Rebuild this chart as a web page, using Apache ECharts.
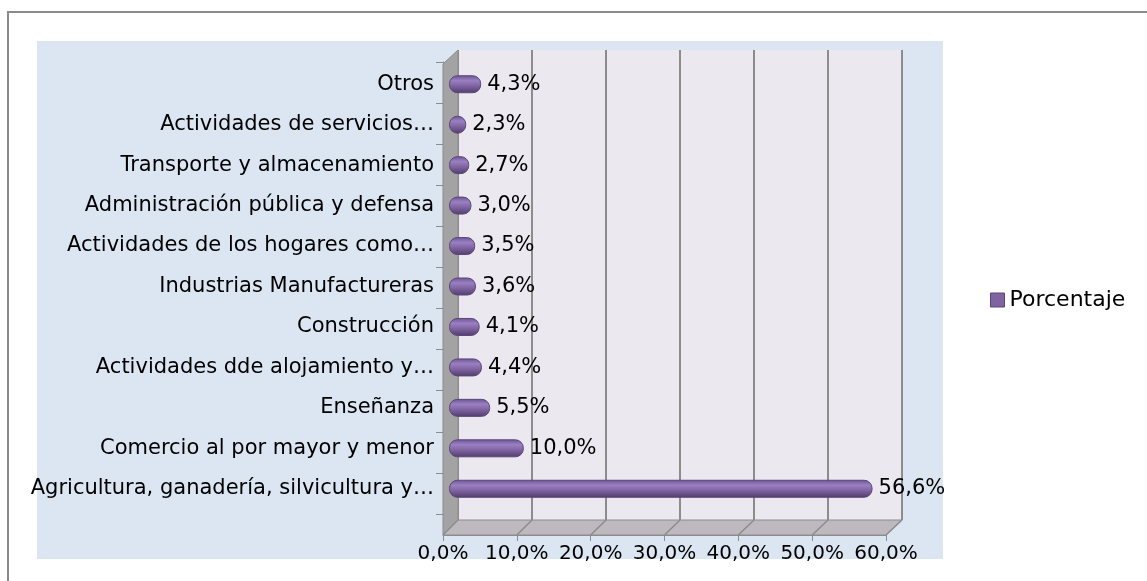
<!DOCTYPE html>
<html>
<head>
<meta charset="utf-8">
<script src="https://cdn.jsdelivr.net/npm/echarts@6/dist/echarts.min.js"></script>
<style>
  html, body { margin: 0; padding: 0; background: #fff; }
  #chart { width: 1147px; height: 581px; }
</style>
</head>
<body>
<div id="chart"></div>
<script>
  // categories listed bottom -> top (ECharts category order)
  var categories = [
    'Agricultura, ganadería, silvicultura y…',
    'Comercio al por mayor y menor',
    'Enseñanza',
    'Actividades dde alojamiento y…',
    'Construcción',
    'Industrias Manufactureras',
    'Actividades de los hogares como…',
    'Administración pública y defensa',
    'Transporte y almacenamiento',
    'Actividades de servicios…',
    'Otros'
  ];
  var porcentaje = [56.6, 10.0, 5.5, 4.4, 4.1, 3.6, 3.5, 3.0, 2.7, 2.3, 4.3];
  var xTicks = [0, 10, 20, 30, 40, 50, 60];

  var FONT = 'DejaVu Sans';
  function pct(v) { return v.toFixed(1).replace('.', ',') + '%'; }

  var chart = echarts.init(document.getElementById('chart'));

  chart.setOption({
    animation: false,
    textStyle: { fontFamily: FONT },
    legend: {
      data: ['Porcentaje'],
      left: 985,
      top: 284,
      icon: 'rect',
      itemWidth: 14,
      itemHeight: 14,
      itemGap: 6,
      itemStyle: { color: '#8064a2', borderColor: '#5b4677', borderWidth: 1 },
      textStyle: { fontFamily: FONT, fontSize: 22, color: '#000' }
    },
    grid: [
      // back wall
      { left: 458, right: 245, top: 50, bottom: 61, show: true, backgroundColor: '#ebe8ef', borderWidth: 0 },
      // front axes
      { left: 443, right: 261, top: 62, bottom: 67, show: false },
      // bars
      { left: 449, right: 249, top: 64, bottom: 72, show: false }
    ],
    xAxis: [
      {
        gridIndex: 0, type: 'value', min: 0, max: 60, interval: 10,
        axisLine: { show: false }, axisTick: { show: false }, axisLabel: { show: false },
        splitLine: { show: true, lineStyle: { color: '#8c8c8c', width: 2 } }
      },
      {
        gridIndex: 1, type: 'value', min: 0, max: 60, interval: 10, offset: 21,
        axisLine: { show: true, lineStyle: { color: '#8c8c8c', width: 1 } },
        axisTick: { show: true, length: 6, lineStyle: { color: '#8c8c8c' } },
        axisLabel: { fontFamily: FONT, fontSize: 20, color: '#000', margin: 9, formatter: pct },
        splitLine: { show: false }
      },
      {
        gridIndex: 2, type: 'value', min: 0, max: 60, interval: 10, show: false
      }
    ],
    yAxis: [
      { gridIndex: 0, type: 'category', data: categories, show: false },
      {
        gridIndex: 1, type: 'category', data: categories,
        axisLine: { show: true, lineStyle: { color: '#8c8c8c', width: 1 } },
        axisTick: { show: true, length: 7, lineStyle: { color: '#8c8c8c' } },
        axisLabel: { show: false }
      },
      {
        gridIndex: 2, type: 'category', data: categories,
        axisLine: { show: false }, axisTick: { show: false },
        axisLabel: { fontFamily: FONT, fontSize: 21, color: '#000', margin: 15 }
      }
    ],
    series: [
      {
        name: 'Porcentaje',
        type: 'bar',
        xAxisIndex: 2,
        yAxisIndex: 2,
        data: porcentaje,
        barWidth: 18,
        z: 5,
        itemStyle: {
          borderRadius: 8,
          borderColor: '#5b4677',
          borderWidth: 1,
          color: new echarts.graphic.LinearGradient(0, 0, 0, 1, [
            { offset: 0, color: '#6a5292' },
            { offset: 0.3, color: '#9a80c2' },
            { offset: 0.6, color: '#7f63a1' },
            { offset: 1, color: '#503c6c' }
          ])
        },
        label: {
          show: true,
          position: 'right',
          distance: 6,
          fontFamily: FONT,
          fontSize: 21,
          color: '#000',
          formatter: function (p) { return pct(p.value); }
        }
      }
    ]
  });

  // 3D side wall and floor, placed from the back/front axis scales
  var backX0 = chart.convertToPixel({ xAxisIndex: 0 }, 0);
  var backX60 = chart.convertToPixel({ xAxisIndex: 0 }, 60);
  var frontX0 = chart.convertToPixel({ xAxisIndex: 1 }, 0);
  var frontX60 = chart.convertToPixel({ xAxisIndex: 1 }, 60);
  var backTop = 50, backBottom = 520, frontTop = 64, frontBottom = 535;

  var graphics = [
    { type: 'rect', z: -10, shape: { x: 8, y: 12, width: 1200, height: 700 },
      style: { fill: '#fff', stroke: '#8a8a8a', lineWidth: 2 } },
    { type: 'rect', z: -9, shape: { x: 37, y: 41, width: 906, height: 518 },
      style: { fill: '#dce6f2' } },
    { type: 'polygon', z: 3, shape: { points: [[frontX0, frontTop], [backX0, backTop], [backX0, backBottom], [frontX0, frontBottom]] },
      style: { fill: '#a3a3a3', stroke: '#8c8c8c', lineWidth: 1 } },
    { type: 'polygon', z: 3, shape: { points: [[frontX0, frontBottom], [backX0, backBottom], [backX60, backBottom], [frontX60, frontBottom]] },
      style: { fill: '#bdb9be', stroke: '#8c8c8c', lineWidth: 1 } }
  ];
  xTicks.forEach(function (t) {
    var bx = chart.convertToPixel({ xAxisIndex: 0 }, t);
    var fx = chart.convertToPixel({ xAxisIndex: 1 }, t);
    graphics.push({ type: 'line', z: 3, shape: { x1: bx, y1: backBottom, x2: fx, y2: frontBottom },
      style: { stroke: '#8c8c8c', lineWidth: 1.5 } });
  });
  chart.setOption({ graphic: graphics });
</script>
</body>
</html>
